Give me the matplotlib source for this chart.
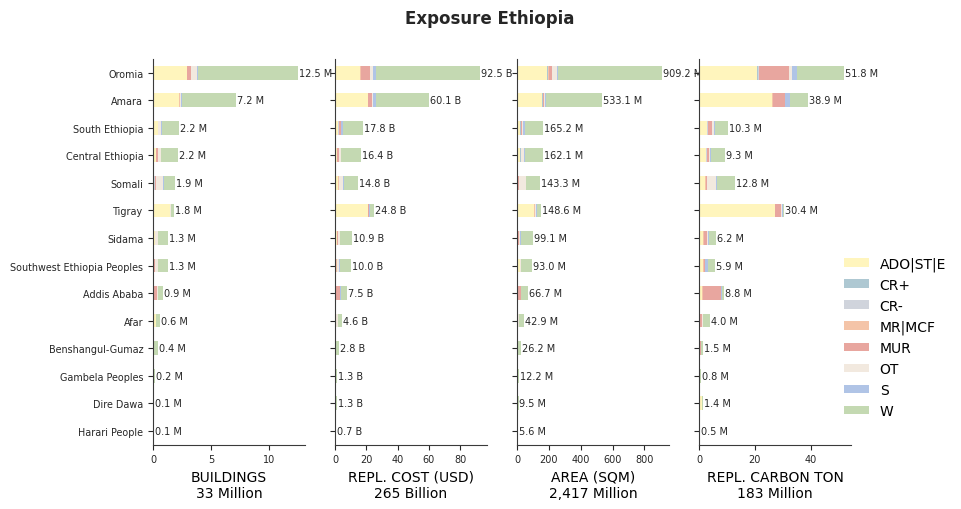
import matplotlib
matplotlib.use("Agg")
import matplotlib.pyplot as plt
from matplotlib.patches import Patch
import numpy as np

regions = ["Oromia", "Amara", "South Ethiopia", "Central Ethiopia", "Somali", "Tigray",
           "Sidama", "Southwest Ethiopia Peoples", "Addis Ababa", "Afar",
           "Benshangul-Gumaz", "Gambela Peoples", "Dire Dawa", "Harari People"]
classes = ["ADO|ST|E", "CR+", "CR-", "MR|MCF", "MUR", "OT", "S", "W"]
class_colors = ["#fff5bd", "#aec8d2", "#d0d4dc", "#f4c4a8", "#e8a69f", "#f2e9df", "#b0c4e6", "#c4d9b2"]

# Buildings (millions)
buildings = {
    "ADO|ST|E": [2.9, 2.26, 0.40, 0.26, 0.12, 1.50, 0.17, 0.12, 0.10, 0.25, 0.05, 0.02, 0.03, 0.03],
    "CR+":      [0.02, 0.01, 0.01, 0.01, 0, 0, 0, 0, 0, 0, 0, 0, 0, 0],
    "CR-":      [0.03, 0.01, 0.01, 0.01, 0.01, 0, 0, 0, 0, 0, 0, 0, 0, 0],
    "MR|MCF":   [0.02, 0.01, 0, 0, 0, 0, 0, 0, 0, 0, 0, 0, 0, 0],
    "MUR":      [0.29, 0.02, 0.02, 0.12, 0.12, 0.01, 0.01, 0.01, 0.23, 0, 0, 0, 0.01, 0],
    "OT":       [0.5, 0.14, 0.26, 0.29, 0.64, 0.02, 0.23, 0.29, 0.06, 0.02, 0.05, 0, 0, 0],
    "S":        [0.12, 0.02, 0.09, 0.02, 0.02, 0.01, 0.02, 0.02, 0, 0, 0, 0, 0, 0],
    "W":        [8.62, 4.73, 1.42, 1.49, 1.0, 0.28, 0.88, 0.85, 0.50, 0.33, 0.30, 0.18, 0.06, 0.07],
}
# Replacement cost (billion USD)
repl_cost = {
    "ADO|ST|E": [15.7, 20.9, 2.1, 1.1, 2.1, 20.9, 1.1, 0.6, 0.6, 0.5, 0.3, 0.2, 0.6, 0.3],
    "CR+":      [0.2, 0.1, 0.1, 0.1, 0, 0, 0, 0, 0, 0, 0, 0, 0, 0],
    "CR-":      [0.3, 0.1, 0.1, 0.1, 0.1, 0, 0, 0, 0, 0, 0, 0, 0, 0],
    "MR|MCF":   [0.2, 0.1, 0.1, 0.1, 0.1, 0.1, 0.1, 0.6, 0.1, 0, 0, 0, 0, 0],
    "MUR":      [5.8, 2.6, 1.3, 0.9, 0.2, 0.9, 0.9, 0.2, 2.4, 0.1, 0.1, 0, 0.2, 0],
    "OT":       [1.9, 0.6, 0.4, 1.5, 2.8, 0.1, 0.9, 0.9, 0.4, 1.0, 0.2, 0, 0, 0],
    "S":        [2.4, 1.7, 1.1, 0.3, 0.2, 0.6, 0.2, 0.6, 0.1, 0, 0, 0, 0, 0],
    "W":        [66.0, 34.0, 12.6, 12.3, 9.3, 2.2, 7.7, 7.1, 3.9, 3.0, 2.2, 1.1, 0.5, 0.4],
}
# Area (million sqm)
area = {
    "ADO|ST|E": [191, 160, 21, 21, 6, 109, 8, 19, 6, 8, 3, 2, 5, 2.6],
    "CR+":      [2, 1, 1, 1, 0, 0, 0, 0, 0, 0, 0, 0, 0, 0],
    "CR-":      [3, 1, 1, 1, 1, 0, 0, 0, 0, 0, 0, 0, 0, 0],
    "MR|MCF":   [2, 1, 1, 1, 1, 1, 1, 1, 1, 0, 0, 0, 0, 0],
    "MUR":      [19, 6, 8, 3, 2, 6, 6, 1, 15, 1, 1, 0, 1, 0],
    "OT":       [34, 4, 8, 19, 46, 2, 6, 4, 4, 6, 2, 0, 0, 0],
    "S":        [6, 6, 8, 2, 1, 8, 1, 1, 0, 0, 0, 0, 0, 0],
    "W":        [652.2, 354.1, 117.2, 114.1, 86.3, 22.6, 77.1, 67.0, 40.7, 27.9, 20.2, 10.2, 3.5, 3.0],
}
# Replacement carbon (million ton)
carbon = {
    "ADO|ST|E": [20.7, 26.1, 2.9, 2.5, 2.2, 27.2, 1.6, 1.6, 1.2, 0.4, 0.2, 0.1, 0.9, 0.3],
    "CR+":      [0.5, 0.1, 0.1, 0.1, 0, 0, 0, 0, 0, 0, 0, 0, 0, 0],
    "CR-":      [0.2, 0.1, 0.1, 0.1, 0.1, 0, 0, 0, 0, 0, 0, 0, 0, 0],
    "MR|MCF":   [0.2, 0.1, 0.1, 0.1, 0.1, 0.1, 0.1, 0.1, 0.1, 0, 0, 0, 0.3, 0],
    "MUR":      [10.7, 4.3, 1.6, 0.8, 0.4, 2.2, 1.1, 0.5, 6.6, 0.5, 0.5, 0, 0, 0],
    "OT":       [1.1, 0.0, 0.4, 0.4, 3.2, 0.1, 0.4, 0.1, 0.1, 0.7, 0, 0, 0, 0],
    "S":        [1.7, 1.8, 0.4, 0.4, 0.5, 0.4, 0.3, 0.8, 0.1, 0, 0, 0, 0, 0],
    "W":        [16.7, 6.4, 4.7, 4.9, 6.3, 0.4, 2.7, 2.8, 0.7, 2.4, 0.8, 0.7, 0.2, 0.2],
}

panel_data = [buildings, repl_cost, area, carbon]
panel_units = ["M", "B", "M", "M"]
panel_xlabels = ["BUILDINGS\n33 Million", "REPL. COST (USD)\n265 Billion",
                 "AREA (SQM)\n2,417 Million", "REPL. CARBON TON\n183 Million"]

plt.rcParams["font.family"] = ["DejaVu Sans"]
text_color = "#262626"

fig = plt.figure(figsize=(9.61, 5.10), dpi=100)
W_PX, H_PX = 961, 510
lefts_px = [153, 335, 517, 699]
ax_w = 152 / W_PX
ax_bottom = 1 - 445.5 / H_PX
ax_h = (445.5 - 60) / H_PX

n = len(regions)
ypos = np.arange(n)[::-1]

for i, (data, unit, xlabel) in enumerate(zip(panel_data, panel_units, panel_xlabels)):
    ax = fig.add_axes([lefts_px[i] / W_PX, ax_bottom, ax_w, ax_h])
    left = np.zeros(n)
    for cls, col in zip(classes, class_colors):
        vals = np.array(data[cls], dtype=float)
        ax.barh(ypos, vals, left=left, height=0.5, color=col, edgecolor="none", linewidth=0)
        left = left + vals
    for y, tot in zip(ypos, left):
        ax.annotate(f"{tot:.1f} {unit}", xy=(tot, y), xytext=(0.7, 0), textcoords="offset points",
                    ha="left", va="center", fontsize=7, color=text_color, annotation_clip=False)
    ax.set_ylim(-0.5, n - 0.5)
    ax.set_xlim(0, left.max() * 1.05)
    ax.set_yticks(ypos)
    if i == 0:
        ax.set_yticklabels(regions, fontsize=6.9, color=text_color)
    else:
        ax.set_yticklabels([])
    ax.tick_params(axis="x", labelsize=7, colors=text_color, length=3.5, width=0.8)
    ax.tick_params(axis="y", length=3.5, width=0.8, colors=text_color)
    ax.spines["top"].set_visible(False)
    ax.spines["right"].set_visible(False)
    for s in ("left", "bottom"):
        ax.spines[s].set_color("#3a3a3a")
        ax.spines[s].set_linewidth(0.8)
    ax.set_xlabel(xlabel, fontsize=10, color="black", labelpad=4)
    ax.set_facecolor("none")

handles = [Patch(facecolor=c, edgecolor="none") for c in class_colors]
fig.legend(handles, classes, loc="center left", bbox_to_anchor=(838 / W_PX, 1 - 338 / H_PX),
           frameon=False, fontsize=10, handlelength=1.8, handleheight=0.6,
           borderaxespad=0, labelspacing=0.5)

fig.text(490 / W_PX, 1 - 18.5 / H_PX, "Exposure Ethiopia", ha="center", va="center",
         fontsize=12, fontweight="bold", color=text_color)

fig.savefig("out.png", dpi=100)
